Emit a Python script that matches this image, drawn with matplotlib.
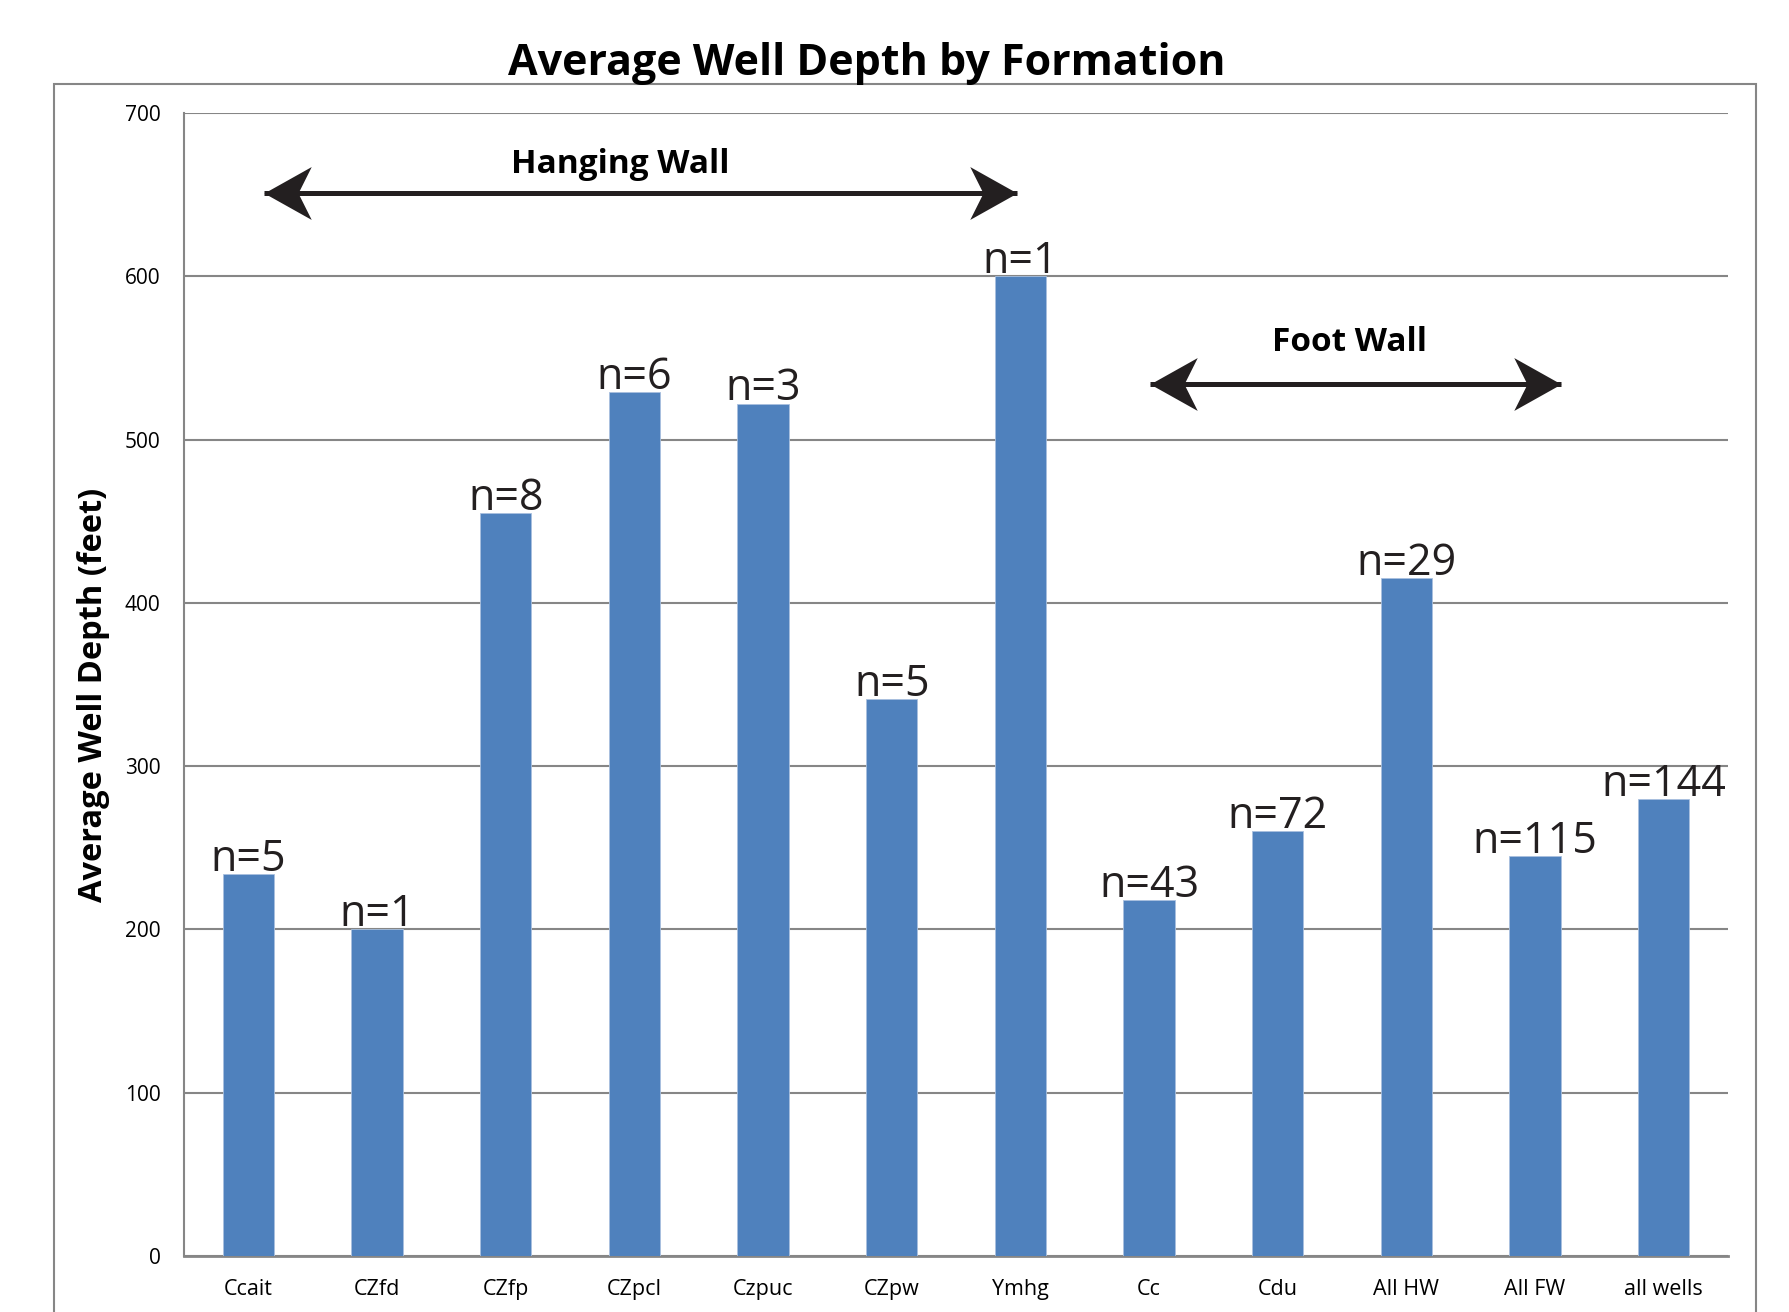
import matplotlib
matplotlib.use("Agg")
import matplotlib.pyplot as plt
from matplotlib.path import Path
from matplotlib.patches import Rectangle

# data
formations = ["Ccait", "CZfd", "CZfp", "CZpcl", "Czpuc", "CZpw", "Ymhg",
              "Cc", "Cdu", "All HW", "All FW", "all wells"]
avg_depth = [234, 200, 455, 529, 522, 341, 600, 218, 260, 415, 245, 280]
n_wells = [5, 1, 8, 6, 3, 5, 1, 43, 72, 29, 115, 144]
y_ticks = [0, 100, 200, 300, 400, 500, 600, 700]

# bracket arrows and their labels (category-index units, feet)
hw_span = (0.12, 5.97)
hw_y = 651
hw_label_xy = (2.89, 671)
fw_span = (7.01, 10.2)
fw_y = 534
fw_label_xy = (8.555, 562)

BAR = "#4F81BD"
GRID = "#868686"
INK = "#231F20"
FONT = ["Open Sans", "DejaVu Sans"]

fig = plt.figure(figsize=(17.9, 13.12), dpi=100)
ax = fig.add_axes([0.1028, 0.0427, 0.8626, 0.8712])

# outer chart frame, runs off the bottom of the picture
fig.patches.append(Rectangle((0.030, -0.05), 0.951, 0.986, transform=fig.transFigure,
                             fill=False, edgecolor=GRID, lw=1.5))

x = list(range(len(formations)))
ax.bar(x, avg_depth, width=0.4, color=BAR, edgecolor="#A9C0DF", linewidth=0.6, zorder=3)

for xi, d, n in zip(x, avg_depth, n_wells):
    ax.text(xi, d + 2, f"n={n}", ha="center", va="baseline", fontsize=31,
            family=FONT, color=INK, zorder=4)

ax.set_xlim(-0.5, len(formations) - 0.5)
ax.set_ylim(0, 700)
ax.set_yticks(y_ticks)
ax.set_yticklabels([str(t) for t in y_ticks], family=FONT, fontsize=15)
ax.set_xticks(x)
ax.set_xticklabels(formations, family=FONT, fontsize=15.5)
ax.tick_params(axis="both", length=0)
ax.tick_params(axis="y", pad=17)
ax.tick_params(axis="x", pad=16.5)
ax.grid(axis="y", color=GRID, lw=1.5, zorder=0)
for s in ["top", "right"]:
    ax.spines[s].set_visible(False)
ax.spines["left"].set_color(GRID)
ax.spines["bottom"].set_color(GRID)
ax.spines["left"].set_linewidth(1.5)
ax.spines["bottom"].set_linewidth(2)

fig.text(0.484, 0.943, "Average Well Depth by Formation", ha="center", va="baseline",
         family=FONT, fontweight="bold", fontsize=31)
fig.text(0.052, 0.47, "Average Well Depth (feet)", rotation=90, ha="center", va="center",
         family=FONT, fontweight="bold", fontsize=23.5)

# notched arrow head, tip at the origin
head = Path([(0, 0), (-1, 0.56), (-0.72, 0), (-1, -0.56), (0, 0)],
            [Path.MOVETO, Path.LINETO, Path.LINETO, Path.LINETO, Path.CLOSEPOLY])
head_l = Path([(-vx, vy) for vx, vy in head.vertices], head.codes)


def bracket(span, y, label, label_xy):
    ax.plot(span, [y, y], color=INK, lw=3.6, solid_capstyle="butt", zorder=5)
    ax.plot([span[0]], [y], marker=head_l, ms=68, color=INK, mew=0, zorder=6)
    ax.plot([span[1]], [y], marker=head, ms=68, color=INK, mew=0, zorder=6)
    ax.text(label_xy[0], label_xy[1], label, ha="center", va="center_baseline",
            family=FONT, fontweight="bold", fontsize=24, zorder=6)


bracket(hw_span, hw_y, "Hanging Wall", hw_label_xy)
bracket(fw_span, fw_y, "Foot Wall", fw_label_xy)

fig.savefig("out.png", dpi=100)
